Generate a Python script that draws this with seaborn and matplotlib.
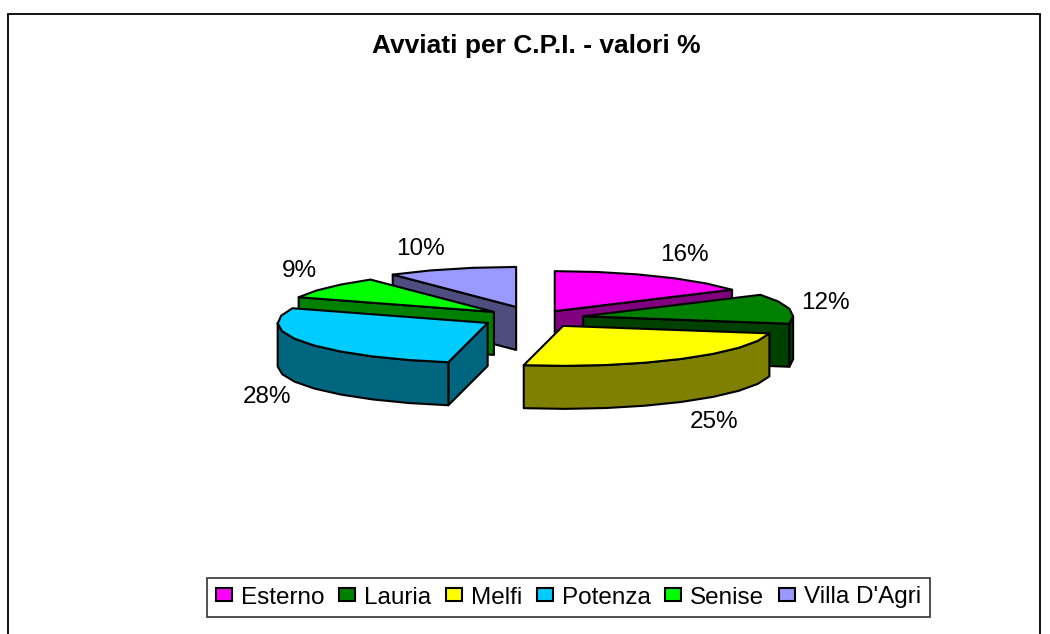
import numpy as np
import matplotlib
matplotlib.use("Agg")
import matplotlib.pyplot as plt
from matplotlib.patches import Polygon, Patch
import seaborn as sns

# --- data ---
categories = ["Esterno", "Lauria", "Melfi", "Potenza", "Senise", "Villa D'Agri"]
shares = [16, 12, 25, 28, 9, 10]
title = "Avviati per C.P.I. - valori %"

# --- style / layout ---
top_colors = ["#FF00FF", "#008000", "#FFFF00", "#00CCFF", "#00FF00", "#9999FF"]
explode = [41, 49, 50, 54, 52, 61]
label_xy = [(684, 255), (825, 303), (714, 422), (267, 397), (299, 271), (420, 249)]
draw_order = [5, 4, 3, 0, 1, 2]
CX, CY, RX, RY, DEPTH = 535, 318, 210, 40, 43
STEP = 12.0

sns.set_theme(style="white")
plt.rcParams["font.family"] = ["Liberation Sans", "DejaVu Sans"]
plt.rcParams["text.color"] = "black"
palette = sns.color_palette(top_colors)

fig = plt.figure(figsize=(10.5, 6.34), dpi=100)
ax = fig.add_axes([0, 0, 1, 1])
ax.set_xlim(0, 1050)
ax.set_ylim(634, 0)
ax.axis("off")

# chart frame
ax.plot([7.5, 7.5, 1040, 1040], [634, 13.5, 13.5, 634], color="black", lw=1.3, solid_joinstyle="miter")


def pt(apex, deg):
    t = np.radians(deg)
    return np.array([apex[0] + RX * np.sin(t), apex[1] - RY * np.cos(t)])


def poly(points, color, z):
    ax.add_patch(Polygon(points, closed=True, facecolor=color, edgecolor="black",
                         lw=1.5, joinstyle="round", zorder=z))


def extrude(pts):
    pts = np.asarray(pts)
    return np.vstack([pts, pts[::-1] + [0, DEPTH]])


total = sum(shares)
edges = np.concatenate([[0], np.cumsum(shares)]) * 360.0 / total
for rank, i in enumerate(draw_order):
    a0, a1 = edges[i], edges[i + 1]
    mid = np.radians((a0 + a1) / 2)
    apex = np.array([CX + explode[i] * np.sin(mid),
                     CY - explode[i] * np.cos(mid) * RY / RX])
    n = max(2, int(np.ceil((a1 - a0) / STEP)) + 1)
    angles = np.linspace(a0, a1, n)
    rim = np.array([pt(apex, a) for a in angles])
    side = tuple(0.5 * np.array(palette[i]))
    z = 10 + rank * 10
    # cut faces facing the viewer
    if 180 < a0 < 360:
        poly(extrude([apex, rim[0]]), side, z)
    if a1 < 180:
        poly(extrude([apex, rim[-1]]), side, z)
    # outer wall facing the viewer
    lo, hi = max(a0, 90), min(a1, 270)
    if lo < hi:
        arc = np.unique(np.concatenate([[lo, hi], angles[(angles > lo) & (angles < hi)]]))
        poly(extrude([pt(apex, a) for a in arc]), side, z + 1)
    # top face
    poly(np.vstack([[apex], rim]), palette[i], z + 2)

for value, (x, y) in zip(shares, label_xy):
    ax.text(x, y, f"{value}%", ha="center", va="center", fontsize=17.5, color="black", zorder=100)

ax.text(536, 46.5, title, ha="center", va="center", fontsize=19, fontweight="bold",
        color="black", zorder=100)

handles = [Patch(facecolor=c, edgecolor="black", lw=1.5) for c in palette]
leg = ax.legend(handles, categories, ncol=6, loc="center",
                bbox_to_anchor=(568.5, 597.5), bbox_transform=ax.transData,
                frameon=True, fancybox=False, edgecolor="#333333", framealpha=1,
                fontsize=17.5, handlelength=0.66, handleheight=0.45, handletextpad=0.37,
                columnspacing=0.6, borderpad=0.35, borderaxespad=0, labelcolor="black")
leg.get_frame().set_linewidth(1.2)
leg.set_zorder(100)

fig.savefig("out.png", dpi=100, facecolor="white")
